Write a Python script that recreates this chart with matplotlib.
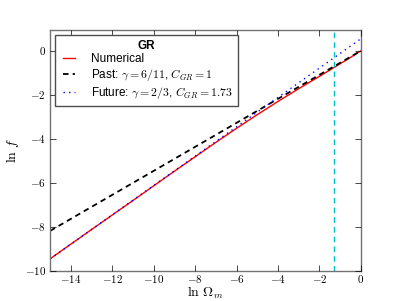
import numpy as np
import matplotlib
matplotlib.use('Agg')
import matplotlib.pyplot as plt
from matplotlib.ticker import FuncFormatter

plt.style.use('classic')
plt.rcParams['mathtext.fontset'] = 'cm'
plt.rcParams['font.family'] = ['Liberation Sans', 'DejaVu Sans']

# ln(Omega_m) sample points and numerical ln f
ln_omega = [-15, -13, -11, -9, -7, -6, -5, -4, -3, -2, -1.28, -0.5, 0]
ln_f_num = [-9.45, -8.12, -6.80, -5.47, -4.16, -3.52, -2.90, -2.30, -1.72, -1.16, -0.75, -0.30, 0.0]

# power-law fits f = C * Omega^gamma
gamma_past, c_past = 6.0 / 11.0, 1.0
gamma_future, c_future = 2.0 / 3.0, 1.73

ln_omega_today = -1.28

x = np.array(ln_omega)
past = gamma_past * x + np.log(c_past)
future = gamma_future * x + np.log(c_future)

fig = plt.figure(figsize=(4.01, 3.01), dpi=100)
ax = fig.add_subplot(111)

ax.plot(x, ln_f_num, 'r-', lw=1.0, label='Numerical')
ax.plot(x, past, 'k--', lw=1.3, dashes=(4, 3), label=r'Past: $\gamma=6/11$, $C_{GR}=1$')
ax.plot(x, future, 'b:', lw=1.0, label=r'Future: $\gamma=2/3$, $C_{GR}=1.73$')
ax.axvline(ln_omega_today, color='c', ls='--', lw=1.0, dashes=(4, 3))

ax.set_xlim(-15, 0)
ax.set_ylim(-10, 0.94)
ax.set_xticks([-14, -12, -10, -8, -6, -4, -2, 0])
ax.set_yticks([-10, -8, -6, -4, -2, 0])

def cm_label(v, pos):
    return r'$%d$' % v

ax.xaxis.set_major_formatter(FuncFormatter(cm_label))
ax.yaxis.set_major_formatter(FuncFormatter(cm_label))
ax.tick_params(labelsize=8, pad=3)
ax.tick_params(axis='x', pad=1.5)
for sp in ax.spines.values():
    sp.set_color('0.45')

ax.set_xlabel(r'$\ln\,\Omega_m$', fontsize=10, labelpad=-0.5)
ax.set_ylabel(r'$\ln\,f$', fontsize=10, labelpad=3)

leg = ax.legend(loc='upper left', fontsize=8.5, title='GR', handlelength=1.6,
                handletextpad=1.1, borderaxespad=0.4, labelspacing=0.15)
leg.get_title().set_fontweight('bold')
leg.get_title().set_fontsize(8.5)
leg.get_frame().set_edgecolor('0.3')

fig.savefig('out.png', dpi=100)
